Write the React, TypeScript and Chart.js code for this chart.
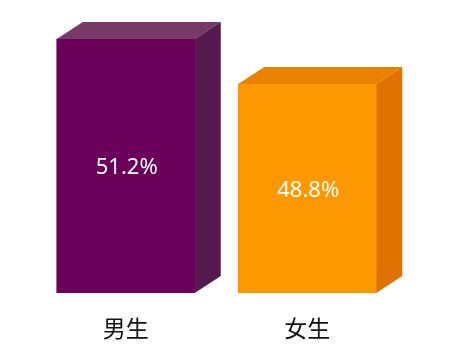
import React, { useEffect, useRef } from "react";
import { Chart, registerables } from "chart.js";

Chart.register(...registerables);

const categories = ["男生", "女生"];
const values = [51.2, 48.8];
const labels = ["51.2%", "48.8%"];
const axisMin = 37.65;
const axisMax = 52.107;
const frontColors = ["#6a0059", "#fd9800"];
const topColors = ["#763a69", "#e88200"];
const sideColors = ["#561a4e", "#df7200"];

const DX = 26;
const DY = 17;

const bar3dPlugin = {
  id: "bar3d",
  afterDatasetsDraw(chart: any) {
    const ctx = chart.ctx;
    const meta = chart.getDatasetMeta(0);
    meta.data.forEach((bar: any, i: number) => {
      const { x, y, width } = bar.getProps(["x", "y", "width"], true);
      const base = Math.min(bar.base, chart.chartArea.bottom);
      const l = x - width / 2;
      const r = x + width / 2;
      ctx.save();
      ctx.beginPath();
      ctx.moveTo(l, y);
      ctx.lineTo(l + DX, y - DY);
      ctx.lineTo(r + DX, y - DY);
      ctx.lineTo(r, y);
      ctx.closePath();
      ctx.fillStyle = topColors[i];
      ctx.fill();
      ctx.beginPath();
      ctx.moveTo(r, y);
      ctx.lineTo(r + DX, y - DY);
      ctx.lineTo(r + DX, base - DY);
      ctx.lineTo(r, base);
      ctx.closePath();
      ctx.fillStyle = sideColors[i];
      ctx.fill();
      ctx.fillStyle = "#ffffff";
      ctx.font = '22px "Noto Sans"';
      ctx.textAlign = "center";
      ctx.textBaseline = "middle";
      ctx.fillText(labels[i], x + 1, (y + base) / 2 + 2);
      ctx.restore();
    });
  },
};

export default function App() {
  const ref = useRef<HTMLCanvasElement>(null);
  useEffect(() => {
    if (!ref.current) return;
    const chart = new Chart(ref.current, {
      type: "bar",
      data: {
        labels: categories,
        datasets: [
          {
            data: values,
            base: axisMin,
            backgroundColor: frontColors,
            barThickness: 138,
            borderWidth: 0,
          } as any,
        ],
      },
      options: {
        animation: false,
        responsive: false,
        maintainAspectRatio: false,
        layout: { padding: { left: 35, right: 62, top: 22, bottom: 0 } },
        plugins: { legend: { display: false }, tooltip: { enabled: false } },
        scales: {
          y: { display: false, min: axisMin, max: axisMax },
          x: {
            grid: { display: false, drawTicks: false },
            border: { display: false },
            ticks: {
              color: "#111",
              font: { size: 23, family: '"Noto Sans CJK SC"' },
              padding: 21.7,
            },
          },
        },
      },
      plugins: [bar3dPlugin],
    });
    return () => chart.destroy();
  }, []);
  return (
    <div style={{ position: "absolute", left: 0, top: 0, width: 460, height: 364, background: "#fff" }}>
      <canvas ref={ref} width={460} height={364} style={{ width: 460, height: 364 }} />
    </div>
  );
}
